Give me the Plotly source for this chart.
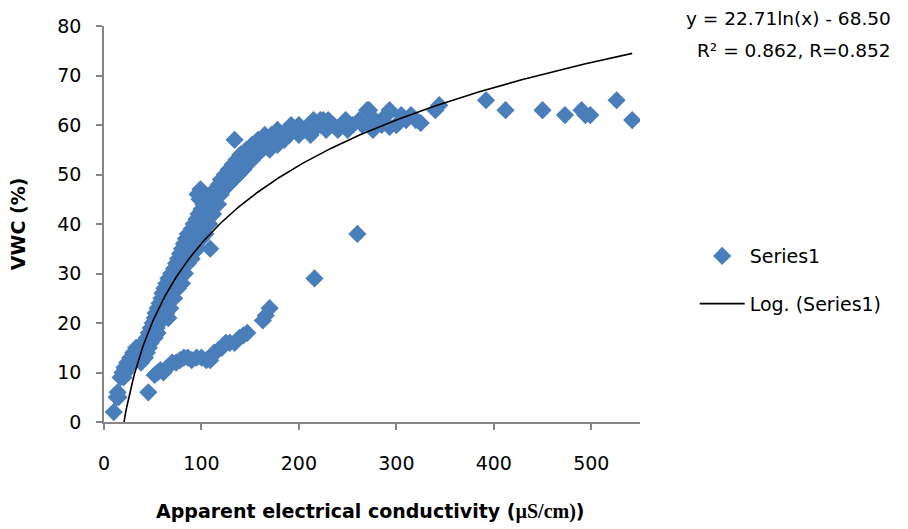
import numpy as np
import plotly.graph_objects as go

# ---- data ----
# upper branch
up_x = [10, 13, 15, 14, 17, 20, 19, 22, 21, 25, 24, 30, 38, 27, 33, 36, 42, 30, 35, 44,
        33, 46, 40, 48, 44, 52, 46, 50, 55, 48, 54, 50, 57, 52, 59, 66, 53, 58, 64,
        55, 62, 68, 57, 65, 59, 67, 72, 60, 70, 62, 68, 76, 64, 73, 80, 66, 78,
        69, 75, 83, 72, 80, 74, 86, 76, 82, 90, 78, 88, 80, 92, 96, 82, 89,
        84, 94, 100, 86, 98, 104, 90, 102, 92, 100, 108, 95, 106, 97, 104, 112,
        100, 110, 102, 108, 117, 98, 106, 114, 96, 110, 120, 99, 114, 123,
        118, 128, 120, 126, 133, 124, 131, 138, 128, 136, 143, 132, 140, 147,
        136, 145, 152, 140, 150, 157, 146, 155, 162, 170, 152, 160, 168, 178,
        158, 166, 175, 185, 134, 165, 172, 182, 190, 200, 212,
        178, 188, 196, 205, 215, 228, 240, 250,
        192, 200, 210, 222, 235, 245, 255, 265, 285, 300,
        215, 222, 230, 248, 262, 278, 310, 320,
        225, 270, 290, 305, 315, 272, 293, 340, 344,
        276, 325, 300, 293]
up_y = [2, 5, 5, 6, 9, 9, 10, 10, 11, 11, 12, 12, 12, 13, 13, 13, 13, 14, 14, 14,
        15, 15, 16, 16, 17, 17, 18, 18, 18, 19, 19, 20, 20, 21, 21, 21, 22, 22, 22,
        23, 23, 23, 24, 24, 25, 25, 25, 26, 26, 27, 27, 27, 28, 28, 28, 29, 29,
        30, 30, 30, 31, 31, 32, 32, 33, 33, 33, 34, 34, 35, 35, 35, 36, 36,
        37, 37, 37, 38, 38, 38, 39, 39, 40, 40, 40, 41, 41, 42, 42, 42,
        43, 43, 44, 44, 44, 45, 45, 45, 46, 46, 46, 47, 47, 47,
        48, 48, 49, 49, 49, 50, 50, 50, 51, 51, 51, 52, 52, 52,
        53, 53, 53, 54, 54, 54, 55, 55, 55, 55, 56, 56, 56, 56,
        57, 57, 57, 57, 57, 58, 58, 58, 58, 58, 58,
        59, 59, 59, 59, 59, 59, 59, 59,
        60, 60, 60, 60, 60, 60, 60, 60, 60, 60,
        61, 61, 61, 61, 61, 61, 61, 61,
        61, 63, 62, 62, 62, 63, 63, 63, 64,
        59, 60.4, 60, 59.6]
# sparse high-conductivity points
hi_x = [392, 412, 450, 473, 490, 494, 499, 526, 542]
hi_y = [65, 63, 63, 62, 63, 62, 62, 65, 61]
# lower branch and isolated points
low_x = [45.5, 52, 55, 58, 61, 65, 70, 74, 78, 82, 86, 90, 95, 100, 105, 109,
         113, 117, 121, 125, 129, 134, 139, 143, 147, 163, 166, 170,
         109, 216, 260]
low_y = [6, 9.5, 10, 10.5, 10, 11, 12, 12, 12.5, 13, 13, 12.5, 13, 13, 12.5, 12.5,
         14, 14.5, 15, 16, 16, 16, 17, 17.5, 18, 20.5, 21.5, 23,
         35, 29, 38]

x_vals = up_x + hi_x + low_x
y_vals = up_y + hi_y + low_y

# logarithmic trendline as printed on the chart: y = 22.71 ln(x) - 68.50
coef_a = 22.71
coef_b = -68.50
trend_x = np.linspace(min(x_vals), max(x_vals), 400)
trend_y = coef_a * np.log(trend_x) + coef_b

eq_line1 = "y = 22.71ln(x) - 68.50"
eq_line2 = "R² = 0.862, R=0.852"

FONT = "DejaVu Sans"
FS = 19
BLUE = "#4A7EBB"
AXIS = "#868686"

fig = go.Figure()
fig.add_trace(go.Scatter(
    x=x_vals, y=y_vals, mode="markers", name="Series1",
    marker=dict(symbol="diamond", size=14, color=BLUE,
                line=dict(width=0)),
    legendgroup="a"))
fig.add_trace(go.Scatter(
    x=trend_x, y=trend_y, mode="lines", name="Log. (Series1)",
    line=dict(color="black", width=1.6), legendgroup="b"))

fig.update_layout(
    width=908, height=529,
    margin=dict(l=104, r=268, t=26, b=107),
    paper_bgcolor="white", plot_bgcolor="white",
    font=dict(family=FONT, size=FS, color="black"),
    showlegend=True,
    legend=dict(x=1.102, y=0.467, xanchor="left", yanchor="top",
                font=dict(family=FONT, size=FS, color="black"),
                tracegroupgap=20, itemwidth=45, bgcolor="rgba(0,0,0,0)"),
    xaxis=dict(range=[0, 550], tickvals=[0, 100, 200, 300, 400, 500],
               showgrid=False, zeroline=False, showline=True,
               linecolor=AXIS, linewidth=1.5, ticks="outside",
               tickcolor=AXIS, ticklen=6, tickwidth=1.5,
               ticklabelstandoff=17,
               tickfont=dict(family=FONT, size=FS), automargin=False),
    yaxis=dict(range=[0, 80], dtick=10, tick0=0,
               showgrid=False, zeroline=False, showline=True,
               linecolor=AXIS, linewidth=1.5, ticks="outside",
               tickcolor=AXIS, ticklen=6, tickwidth=1.5,
               ticklabelstandoff=11,
               tickfont=dict(family=FONT, size=FS), automargin=False),
    annotations=[
        dict(text="<b>Apparent electrical conductivity (<span style='font-family:Liberation Serif;font-size:20px'>µS/cm)</span>)</b>",
             xref="paper", yref="paper", x=0.498, y=-0.227,
             xanchor="center", yanchor="middle", showarrow=False,
             font=dict(family=FONT, size=FS)),
        dict(text="<b>VWC (%)</b>", textangle=-90,
             xref="paper", yref="paper", x=-0.160, y=0.5,
             xanchor="center", yanchor="middle", showarrow=False,
             font=dict(family=FONT, size=FS)),
        dict(text=eq_line1, xref="paper", yref="paper", x=1.472, y=1.020,
             xanchor="right", yanchor="middle", showarrow=False,
             font=dict(family=FONT, size=18.5)),
        dict(text=eq_line2, xref="paper", yref="paper", x=1.472, y=0.939,
             xanchor="right", yanchor="middle", showarrow=False,
             font=dict(family=FONT, size=18.5)),
    ],
)

fig.write_html("out.html")
